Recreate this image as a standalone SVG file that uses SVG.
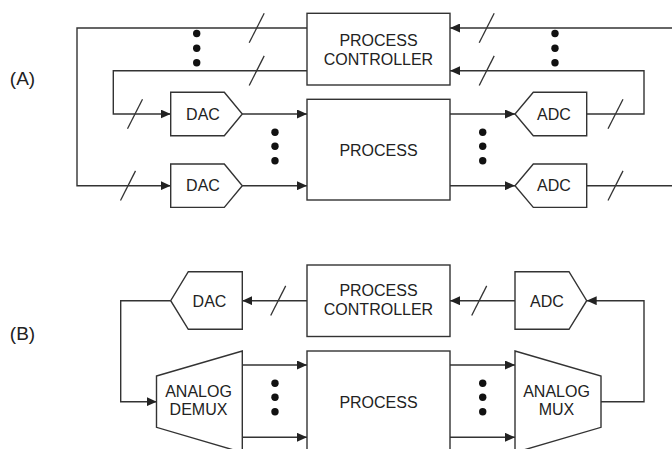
<svg xmlns="http://www.w3.org/2000/svg" width="672" height="449" viewBox="0 0 672 449">
<style>
.box{fill:#fff;stroke:#333;stroke-width:1.4}
.ln{fill:none;stroke:#333;stroke-width:1.4}
.sl{stroke:#333;stroke-width:1.3}
.t{font-family:"Liberation Sans",Arial,sans-serif;font-size:16px;fill:#222;text-anchor:middle}
.lbl{font-family:"Liberation Sans",Arial,sans-serif;font-size:19px;fill:#222;text-anchor:middle}
.dot{fill:#111}
</style>
<defs>
<marker id="ah" markerUnits="userSpaceOnUse" markerWidth="10" markerHeight="9" refX="10" refY="4.5" orient="auto">
<path d="M0,0 L10,4.5 L0,9 z" fill="#222"/>
</marker>
</defs>
<rect width="672" height="449" fill="#fff"/>

<g id="connectors">
<!-- A -->
<path class="ln" d="M672 28 H450" marker-end="url(#ah)"/>
<path class="ln" d="M586.7 185.7 H672"/>
<path class="ln" d="M307 28 H77 V185.7 H170.7" marker-end="url(#ah)"/>
<path class="ln" d="M307 70.7 H113.3 V114 H170.7" marker-end="url(#ah)"/>
<path class="ln" d="M242.3 114 H307" marker-end="url(#ah)"/>
<path class="ln" d="M242.3 185.7 H307" marker-end="url(#ah)"/>
<path class="ln" d="M450 114 H515" marker-end="url(#ah)"/>
<path class="ln" d="M450 185.7 H515" marker-end="url(#ah)"/>
<path class="ln" d="M586.7 114 H644 V70.7 H450" marker-end="url(#ah)"/>
<!-- B -->
<path class="ln" d="M307 300.7 H242.3" marker-end="url(#ah)"/>
<path class="ln" d="M170.7 300.7 H120.7 V401.7 H156.7" marker-end="url(#ah)"/>
<path class="ln" d="M242.3 365 H307" marker-end="url(#ah)"/>
<path class="ln" d="M242.3 437.3 H307" marker-end="url(#ah)"/>
<path class="ln" d="M450 365 H515" marker-end="url(#ah)"/>
<path class="ln" d="M450 437.3 H515" marker-end="url(#ah)"/>
<path class="ln" d="M601 401.7 H644 V300.7 H586.7" marker-end="url(#ah)"/>
<path class="ln" d="M515 300.7 H450" marker-end="url(#ah)"/>
<!-- bus slashes -->
<g id="slashes">
<line class="sl" x1="249.2" y1="42.8" x2="264.2" y2="13.2"/>
<line class="sl" x1="479.2" y1="42.8" x2="494.2" y2="13.2"/>
<line class="sl" x1="249.2" y1="85.5" x2="264.2" y2="55.9"/>
<line class="sl" x1="479.2" y1="85.5" x2="494.2" y2="55.9"/>
<line class="sl" x1="127.5" y1="128.8" x2="142.5" y2="99.2"/>
<line class="sl" x1="120.5" y1="200.5" x2="135.5" y2="170.9"/>
<line class="sl" x1="608" y1="128.8" x2="623" y2="99.2"/>
<line class="sl" x1="608" y1="200.5" x2="623" y2="170.9"/>
<line class="sl" x1="270.7" y1="315.5" x2="285.7" y2="285.9"/>
<line class="sl" x1="471.7" y1="315.5" x2="486.7" y2="285.9"/>
</g>
</g>

<g id="dots">
<circle class="dot" cx="196.7" cy="33.5" r="3.7"/>
<circle class="dot" cx="196.7" cy="48.2" r="3.7"/>
<circle class="dot" cx="196.7" cy="62.7" r="3.7"/>
<circle class="dot" cx="555" cy="33.5" r="3.7"/>
<circle class="dot" cx="555" cy="48.2" r="3.7"/>
<circle class="dot" cx="555" cy="62.7" r="3.7"/>
<circle class="dot" cx="275" cy="132.3" r="3.7"/>
<circle class="dot" cx="275" cy="146.3" r="3.7"/>
<circle class="dot" cx="275" cy="160.7" r="3.7"/>
<circle class="dot" cx="482.7" cy="132.3" r="3.7"/>
<circle class="dot" cx="482.7" cy="146.3" r="3.7"/>
<circle class="dot" cx="482.7" cy="160.7" r="3.7"/>
<circle class="dot" cx="275" cy="383.3" r="3.7"/>
<circle class="dot" cx="275" cy="397.3" r="3.7"/>
<circle class="dot" cx="275" cy="411.7" r="3.7"/>
<circle class="dot" cx="482.7" cy="383.3" r="3.7"/>
<circle class="dot" cx="482.7" cy="397.3" r="3.7"/>
<circle class="dot" cx="482.7" cy="411.7" r="3.7"/>
</g>

<text class="lbl" x="22.5" y="85">(A)</text>
<text class="lbl" x="22.5" y="340">(B)</text>

<!-- Diagram A -->
<g id="ctrlA">
<rect class="box" x="307" y="13.3" width="143" height="71.7"/>
<text class="t" x="378.5" y="46">PROCESS</text>
<text class="t" x="378.5" y="65">CONTROLLER</text>
</g>
<g id="procA">
<rect class="box" x="307" y="99.3" width="143" height="100.7"/>
<text class="t" x="378.5" y="155.5">PROCESS</text>
</g>
<g id="dacA1">
<path class="box" d="M170.7 92.3 H224.3 L242.3 114 L224.3 135.7 H170.7 Z"/>
<text class="t" x="203" y="119.7">DAC</text>
</g>
<g id="dacA2">
<path class="box" d="M170.7 164 H224.3 L242.3 185.7 L224.3 207.4 H170.7 Z"/>
<text class="t" x="203" y="191.4">DAC</text>
</g>
<g id="adcA1">
<path class="box" d="M586.7 92.3 H533.3 L515 114 L533.3 135.7 H586.7 Z"/>
<text class="t" x="554" y="119.7">ADC</text>
</g>
<g id="adcA2">
<path class="box" d="M586.7 164 H533.3 L515 185.7 L533.3 207.4 H586.7 Z"/>
<text class="t" x="554" y="191.4">ADC</text>
</g>

<!-- Diagram B -->
<g id="ctrlB">
<rect class="box" x="307" y="265" width="143" height="71.5"/>
<text class="t" x="378.5" y="296">PROCESS</text>
<text class="t" x="378.5" y="315">CONTROLLER</text>
</g>
<g id="procB">
<rect class="box" x="307" y="351" width="143" height="110"/>
<text class="t" x="378.5" y="407.5">PROCESS</text>
</g>
<g id="dacB">
<path class="box" d="M242.3 271.7 H188.3 L170.7 300.7 L188.3 329.3 H242.3 Z"/>
<text class="t" x="209.5" y="306.5">DAC</text>
</g>
<g id="adcB">
<path class="box" d="M515 271.7 H569 L586.7 300.7 L569 329.3 H515 Z"/>
<text class="t" x="547" y="306.5">ADC</text>
</g>
<g id="demux">
<path class="box" d="M156.5 376 L242.3 351 V452.5 L156.5 427.3 Z"/>
<text class="t" x="198.5" y="396.7">ANALOG</text>
<text class="t" x="198.5" y="415">DEMUX</text>
</g>
<g id="mux">
<path class="box" d="M515 351 L601 376 V427.3 L515 452.5 Z"/>
<text class="t" x="556.5" y="396.7">ANALOG</text>
<text class="t" x="556.5" y="415">MUX</text>
</g>
</svg>
